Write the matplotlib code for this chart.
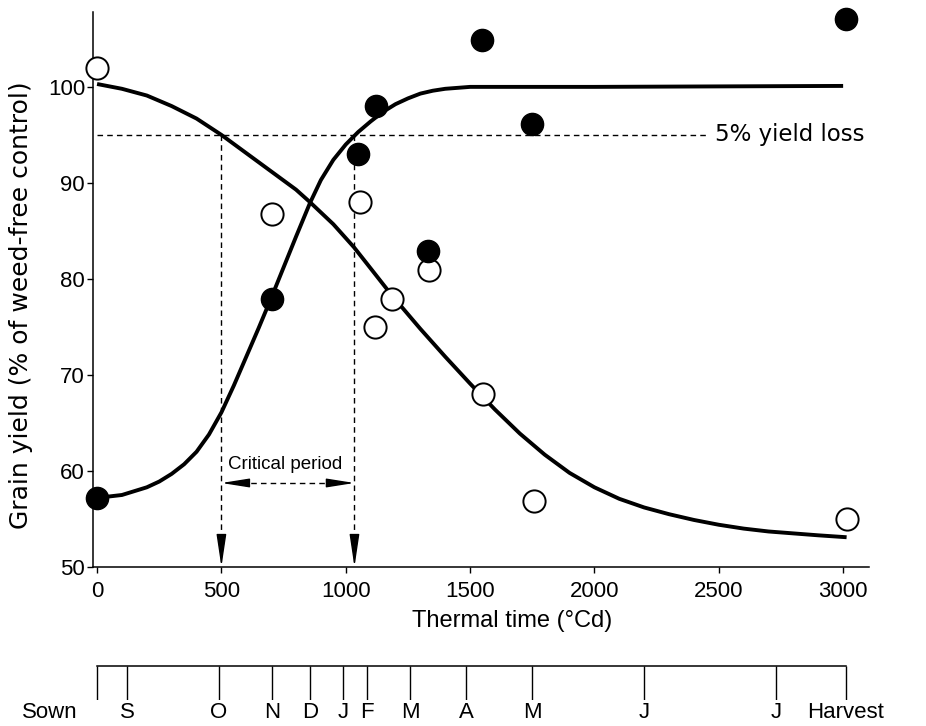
import matplotlib
matplotlib.use("Agg")
import matplotlib.pyplot as plt

plt.rcParams['font.family'] = ['Liberation Sans', 'DejaVu Sans']

# weedy until time t (open circles) and weed-free until time t (filled)
weedy_x = [0, 702, 1058, 1118, 1185, 1335, 1552, 1757, 3016]
weedy_y = [102, 86.8, 88.0, 75.0, 77.9, 80.9, 68.0, 56.9, 55.0]
free_x = [0, 702, 1050, 1122, 1331, 1548, 1748, 3010]
free_y = [57.2, 77.9, 93.0, 98.0, 82.9, 104.9, 96.1, 107.1]

# fitted curves
dec_x = [0, 100, 200, 300, 400, 500, 600, 700, 800, 856, 950, 1033, 1100, 1185,
         1300, 1400, 1500, 1600, 1700, 1800, 1900, 2000, 2100, 2200, 2300, 2400,
         2500, 2600, 2700, 2800, 2900, 3014]
dec_y = [100.3, 99.8, 99.1, 98.0, 96.7, 95.0, 93.1, 91.2, 89.3, 88.0, 85.7, 83.3,
         81.1, 78.3, 74.8, 71.9, 69.1, 66.4, 63.9, 61.7, 59.8, 58.3, 57.1, 56.2,
         55.5, 54.9, 54.4, 54.0, 53.7, 53.5, 53.3, 53.1]
inc_x = [0, 100, 200, 250, 300, 350, 400, 450, 500, 550, 600, 650, 700, 750, 800,
         856, 900, 950, 1000, 1050, 1100, 1150, 1200, 1250, 1300, 1350, 1400, 1450,
         1500, 2000, 3000]
inc_y = [57.2, 57.5, 58.3, 58.9, 59.7, 60.7, 62.0, 63.8, 66.1, 68.9, 71.9, 74.9,
         78.0, 81.2, 84.4, 87.9, 90.3, 92.4, 94.0, 95.3, 96.4, 97.4, 98.2, 98.8,
         99.3, 99.6, 99.8, 99.9, 100.0, 100.0, 100.1]

loss_level = 95
crit_start, crit_end = 500, 1035
crit_y = 58.75

month_labels = ['Sown', 'S', 'O', 'N', 'D', 'J', 'F', 'M', 'A', 'M', 'J', 'J', 'Harvest']
month_pos = [0, 120, 490, 705, 855, 990, 1085, 1260, 1485, 1750, 2200, 2730, 3010]

fig = plt.figure(figsize=(9.26, 7.26), dpi=100)
ax = fig.add_axes([0.1008, 0.2190, 0.8379, 0.7645])

ax.plot(dec_x, dec_y, '-k', lw=2.8, solid_capstyle='butt', solid_joinstyle='round', zorder=3)
ax.plot(inc_x, inc_y, '-k', lw=2.8, solid_capstyle='butt', solid_joinstyle='round', zorder=3)
ax.plot(weedy_x, weedy_y, 'o', ms=16, mfc='white', mec='black', mew=1.4,
        clip_on=False, zorder=4)
ax.plot(free_x, free_y, 'o', ms=16, mfc='black', mec='black',
        clip_on=False, zorder=4)

dash = dict(color='k', lw=1.0, dashes=(4, 3), zorder=2)
ax.plot([0, 2455], [loss_level, loss_level], **dash)
ax.text(2485, loss_level, '5% yield loss', fontsize=16.5, va='center', ha='left',
        family='DejaVu Sans')

for xv in (crit_start, crit_end):
    ax.plot([xv, xv], [loss_level, 52.5], **dash)
    ax.annotate('', xy=(xv, 50), xytext=(xv, 53),
                arrowprops=dict(arrowstyle='-|>,head_length=2.0,head_width=0.3',
                                color='k', lw=1, shrinkA=0, shrinkB=0))

ax.plot([crit_start + 80, crit_end - 80], [crit_y, crit_y], **dash)
ax.annotate('', xy=(crit_start, crit_y), xytext=(crit_start + 90, crit_y),
            arrowprops=dict(arrowstyle='-|>,head_length=1.7,head_width=0.27',
                            color='k', lw=1, shrinkA=0, shrinkB=0))
ax.annotate('', xy=(crit_end, crit_y), xytext=(crit_end - 90, crit_y),
            arrowprops=dict(arrowstyle='-|>,head_length=1.7,head_width=0.27',
                            color='k', lw=1, shrinkA=0, shrinkB=0))
ax.text(758, 60.7, 'Critical period', fontsize=13.5, ha='center', va='center')

ax.set_xlim(-15, 3105)
ax.set_ylim(50, 107.8)
ax.set_xticks(range(0, 3001, 500))
ax.set_yticks(range(50, 101, 10))
ax.tick_params(direction='out', length=4, width=1, labelsize=16, pad=6)
ax.tick_params(axis='y', pad=2)
for s in ('top', 'right'):
    ax.spines[s].set_visible(False)
for s in ('left', 'bottom'):
    ax.spines[s].set_linewidth(1.1)

ax.set_xlabel('Thermal time (°Cd)', fontsize=17)
ax.xaxis.set_label_coords(0.54, -0.077)
ax.set_ylabel('Grain yield (% of weed-free control)', fontsize=18,
              family='DejaVu Sans')
ax.yaxis.set_label_coords(-0.078, 0.472)

# calendar axis underneath
ax2 = fig.add_axes([0.1008, 0.0358, 0.8379, 0.0468])
ax2.set_xlim(ax.get_xlim())
ax2.set_ylim(0, 1)
ax2.axis('off')
ax2.plot([month_pos[0], month_pos[-1]], [1, 1], '-k', lw=1.1, clip_on=False)
ax2.vlines(month_pos, 0, 1, color='k', lw=1.0)
for lbl, xp in zip(month_labels, month_pos):
    if lbl == 'Sown':
        ax2.annotate(lbl, (xp, -0.68), xytext=(-14, 0), textcoords='offset points',
                     ha='right', va='bottom', fontsize=16, annotation_clip=False)
    else:
        ax2.text(xp, -0.68, lbl, ha='center', va='bottom', fontsize=16)

fig.savefig('out.png', dpi=100)
